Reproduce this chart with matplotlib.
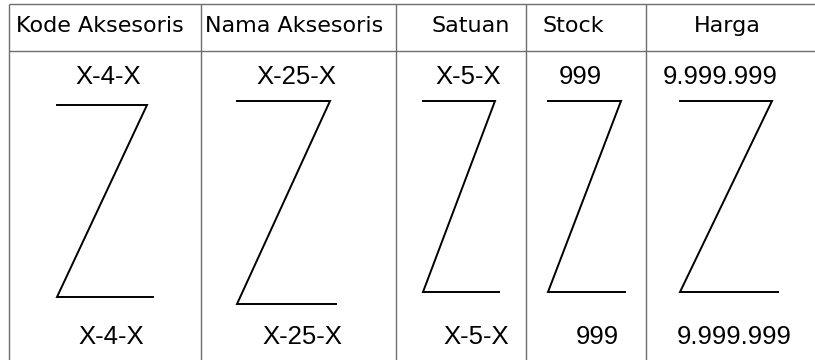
import matplotlib
matplotlib.use("Agg")
import matplotlib.pyplot as plt

# Table content
headers = ["Kode Aksesoris", "Nama Aksesoris", "Satuan", "Stock", "Harga"]
top_labels = ["X-4-X", "X-25-X", "X-5-X", "999", "9.999.999"]
bottom_labels = ["X-4-X", "X-25-X", "X-5-X", "999", "9.999.999"]

# Layout (pixel coordinates, y downward)
col_edges = [9, 201, 396, 526, 646, 830]
table_top, header_bottom, table_bottom = 4, 51, 370
header_x = [100, 294, 471, 573, 727]
top_x = [108, 296, 468, 580, 720]
bottom_x = [111, 302, 476, 597, 734]
header_y, top_y, bottom_y = 26, 77, 337
# Z shapes: left x, top-right x, bottom-right x, top y, bottom y
z_left = [57, 237, 423, 548, 680]
z_top_right = [147, 330, 495, 621, 772]
z_bot_right = [153, 336, 499, 625, 778]
z_top = [105, 101, 101, 101, 101]
z_bottom = [297, 304, 292, 292, 292]

fig = plt.figure(figsize=(8.15, 3.6), dpi=100)
ax = fig.add_axes([0, 0, 1, 1])
ax.set_xlim(0, 815)
ax.set_ylim(360, 0)
ax.axis("off")

grid_kw = dict(color="#6e6e6e", lw=1.0, solid_capstyle="butt")
ax.plot([col_edges[0], col_edges[-1]], [table_top, table_top], **grid_kw)
ax.plot([col_edges[0], col_edges[-1]], [header_bottom, header_bottom], **grid_kw)
for x in col_edges[:-1]:
    ax.plot([x, x], [table_top, table_bottom], **grid_kw)

for i in range(len(headers)):
    ax.text(header_x[i], header_y, headers[i], ha="center", va="center",
            fontsize=16, family="DejaVu Sans", color="#000000")
    ax.text(top_x[i], top_y, top_labels[i], ha="center", va="center",
            fontsize=18.5, family="Liberation Sans", color="#000000")
    ax.text(bottom_x[i], bottom_y, bottom_labels[i], ha="center", va="center",
            fontsize=18.5, family="Liberation Sans", color="#000000")
    xs = [z_left[i], z_top_right[i], z_left[i], z_bot_right[i]]
    ys = [z_top[i], z_top[i], z_bottom[i], z_bottom[i]]
    ax.plot(xs, ys, color="#000000", lw=1.4, solid_joinstyle="miter")

fig.savefig("out.png", dpi=100, facecolor="white")
